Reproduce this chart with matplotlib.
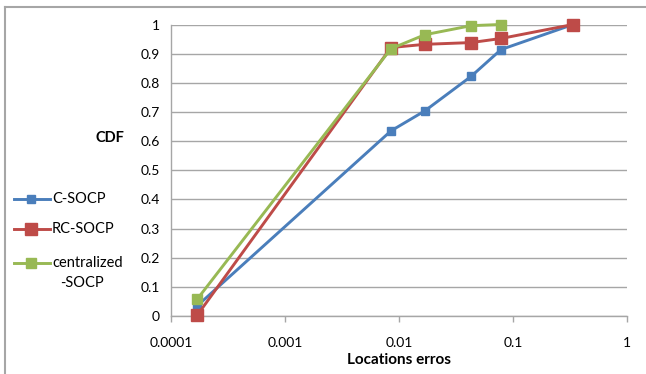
import matplotlib
matplotlib.use("Agg")
import matplotlib.pyplot as plt
from matplotlib.lines import Line2D
from matplotlib.ticker import FixedLocator, NullLocator

plt.rcParams['font.family'] = ['Lato', 'DejaVu Sans']

# Data
x_csocp = [0.00017, 0.0085, 0.0169, 0.0429, 0.0785, 0.336]
y_csocp = [0.035, 0.635, 0.704, 0.822, 0.914, 1.0]

x_rcsocp = [0.00017, 0.0085, 0.0169, 0.0429, 0.0785, 0.336]
y_rcsocp = [0.003, 0.921, 0.932, 0.938, 0.952, 1.0]

x_central = [0.00017, 0.0085, 0.0169, 0.0429, 0.0785]
y_central = [0.058, 0.917, 0.965, 0.996, 1.0]

series_labels = ["C-SOCP", "RC-SOCP", "centralized\n-SOCP"]
x_ticks = [0.0001, 0.001, 0.01, 0.1, 1]
x_tick_labels = ["0.0001", "0.001", "0.01", "0.1", "1"]
y_ticks = [0, 0.1, 0.2, 0.3, 0.4, 0.5, 0.6, 0.7, 0.8, 0.9, 1.0]
y_tick_labels = ["0", "0.1", "0.2", "0.3", "0.4", "0.5", "0.6", "0.7", "0.8", "0.9", "1"]

blue = "#4A7EBB"
red = "#BE4B48"
green = "#98B954"
grid_c = "#A6A6A6"

W, H = 646, 374
fig = plt.figure(figsize=(W/100, H/100), dpi=100)
ax = fig.add_axes([171/W, 1 - 316/H, (627-171)/W, (316-24.5)/H])

styles = [
    (x_csocp, y_csocp, blue, 5.8, 3),
    (x_rcsocp, y_rcsocp, red, 8.0, 4),
    (x_central, y_central, green, 6.5, 5),
]
for xs, ys, c, ms, z in styles:
    ax.plot(xs, ys, color=c, lw=2.1, marker='s', ms=ms, mec=c, mfc=c,
            zorder=z, clip_on=False)

ax.set_xscale('log')
ax.set_xlim(x_ticks[0], x_ticks[-1])
ax.set_ylim(0, 1)
ax.xaxis.set_major_locator(FixedLocator(x_ticks))
ax.xaxis.set_minor_locator(NullLocator())
ax.set_xticklabels(x_tick_labels)
ax.set_yticks(y_ticks)
ax.set_yticklabels(y_tick_labels)

ax.tick_params(axis='x', direction='out', length=4, width=1, color=grid_c,
               labelsize=10, pad=11, labelcolor='black')
ax.tick_params(axis='y', direction='out', length=0, labelsize=10, pad=8,
               labelcolor='black')
ax.grid(axis='y', color=grid_c, lw=1)
ax.set_axisbelow(True)
for s in ['top', 'right']:
    ax.spines[s].set_visible(False)
for s in ['left', 'bottom']:
    ax.spines[s].set_color(grid_c)
    ax.spines[s].set_linewidth(1)

ax.set_xlabel("Locations erros", fontsize=11, fontweight='bold', labelpad=3)

fig.text(110/W, 1 - 138/H, "CDF", fontsize=10.5, fontweight='bold',
         ha='center', va='center')

# manual legend (left side)
leg_y = [199, 229, 263]
for (xs, ys, c, ms, z), lab, yy in zip(styles, series_labels, leg_y):
    fy = 1 - yy/H
    fig.add_artist(Line2D([14/W, 50/W], [fy, fy], color=c, lw=2.1,
                          transform=fig.transFigure))
    fig.add_artist(Line2D([31/W], [fy], color=c, marker='s', ms=ms,
                          mec=c, mfc=c, transform=fig.transFigure))
    if "\n" in lab:
        first, second = lab.split("\n")
        fig.text(52/W, fy, first, fontsize=10.5, ha='left', va='center')
        fig.text(82/W, 1 - (yy + 20)/H, second, fontsize=10.5,
                 ha='center', va='center')
    else:
        fig.text(52/W, fy, lab, fontsize=10.5, ha='left', va='center')

# outer chart border
fig.add_artist(Line2D([5/W, 1], [1 - 7/H, 1 - 7/H], color=grid_c,
                      lw=1.5, transform=fig.transFigure))
fig.add_artist(Line2D([5/W, 5/W], [0, 1 - 7/H], color=grid_c,
                      lw=1.5, transform=fig.transFigure))

fig.savefig("out.png", dpi=100)
